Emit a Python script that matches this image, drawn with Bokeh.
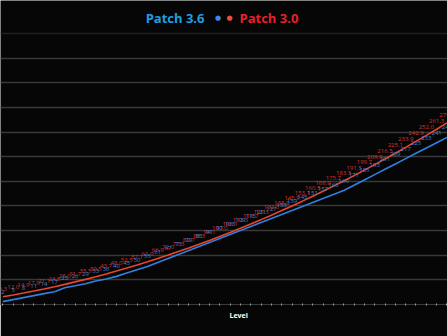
from bokeh.plotting import figure
from bokeh.models import Range1d, FixedTicker, Grid, Label, Title, CustomJSTickFormatter, ColumnDataSource
from bokeh.core.properties import value
from bokeh.embed import file_html
from bokeh.resources import INLINE

# ---- data ----
levels = list(range(1, 45))
patch30 = [9.3, 12.0, 14.9, 17.9, 21.1, 24.5, 28.0, 31.7, 35.5, 39.5, 43.7, 48.0, 52.5, 57.1,
           61.9, 66.9, 72.0, 77.3, 82.7, 88.3, 94.1, 100.0, 106.1, 112.3, 118.7, 125.3, 132.0,
           138.9, 145.9, 153.1, 160.5, 168.0, 175.7, 183.5, 191.5, 199.7, 208.0, 216.5, 225.1,
           233.9, 242.9, 252.0, 261.3, 270.8]
patch36 = [2, 5, 8, 11, 14, 17, 23, 26, 29, 33, 36, 40, 45, 50, 55, 61, 67, 73, 79, 85, 91, 97,
           103, 109, 115, 121, 127, 133, 139, 145, 151, 157, 163, 169, 177, 185, 193, 201, 209,
           217, 225, 233, 241, 249]
series_names = ["Patch 3.6", "Patch 3.0"]
x_title = "Level"

W, H = 447, 336
BOTTOM = 32
FRAME_H = H - BOTTOM
PX_PER_GRID = 24.64
BG = "#060606"
RED_LINE = "#e8462e"
BLUE_LINE = "#2f80e0"
RED_TXT = "#d0352e"
BLUE_TXT = "#3f84dc"

y0 = -2.3
ystep = 37.05
y1 = y0 + ystep * FRAME_H / PX_PER_GRID
p = figure(width=W, height=H, output_backend="svg", toolbar_location=None,
           x_range=Range1d(0.777, 44.05), y_range=Range1d(y0, y1),
           y_axis_location=None, min_border_left=0, min_border_right=0,
           min_border_top=0, min_border_bottom=BOTTOM)
p.background_fill_color = BG
p.border_fill_color = BG
p.outline_line_color = None
for g in p.xgrid:
    g.visible = False
for g in p.ygrid:
    g.visible = False

grid = Grid(dimension=1, ticker=FixedTicker(ticks=[y0 + k * ystep for k in range(1, 11)]),
            grid_line_color="#383838", grid_line_width=1.4)
p.add_layout(grid)
top_grid = Grid(dimension=1, ticker=FixedTicker(ticks=[y0 + 11 * ystep]),
                grid_line_color="#202020", grid_line_width=1.4)
p.add_layout(top_grid)

ax = p.xaxis[0]
ax.ticker = FixedTicker(ticks=levels)
ax.formatter = CustomJSTickFormatter(code="return ''")
ax.major_label_text_font_size = "1px"
ax.major_label_standoff = 0
ax.axis_line_color = "#3a3a3a"
ax.axis_line_width = 1.2
ax.major_tick_line_color = "#a0a0a0"
ax.major_tick_in = 1
ax.major_tick_out = 1
ax.minor_tick_line_color = None

p.add_layout(Title(text=x_title, align="left", offset=229, text_font="Open Sans",
                   text_font_style="bold", text_font_size="7px", text_color="#ffffff",
                   standoff=6), "below")

src = ColumnDataSource(dict(
    x=levels, r=patch30, b=patch36,
    rt=[f"{v:.1f}" for v in patch30], bt=[str(v) for v in patch36]))

p.line("x", "b", source=src, line_color=BLUE_LINE, line_width=1.6)
p.line("x", "r", source=src, line_color=RED_LINE, line_width=1.6)

p.text("x", "r", text="rt", source=src, text_color=RED_TXT, text_font=value("Open Sans"),
       text_font_size="6px", text_align="center", text_baseline="middle", y_offset=-8)
p.text("x", "b", text="bt", source=src, text_color=BLUE_TXT, text_font=value("Open Sans"),
       text_font_size="6px", text_align="center", text_baseline="middle", y_offset=-10)

# legend at top (screen units measured from the frame's bottom-left corner)
def sy(top_px):
    return FRAME_H - top_px

p.add_layout(Label(x=204, y=sy(17), x_units="screen", y_units="screen", text=series_names[0],
                   text_color="#1ba0e2", text_font="Open Sans", text_font_style="bold",
                   text_font_size="13px", text_align="right", text_baseline="middle"))
p.add_layout(Label(x=239, y=sy(17), x_units="screen", y_units="screen", text=series_names[1],
                   text_color="#e8202a", text_font="Open Sans", text_font_style="bold",
                   text_font_size="13px", text_align="left", text_baseline="middle"))
p.add_layout(Label(x=217.5, y=sy(17), x_units="screen", y_units="screen", text="\u25cf",
                   text_color="#3f86e8", text_font="DejaVu Sans",
                   text_font_size="7px", text_align="center", text_baseline="middle"))
p.add_layout(Label(x=229, y=sy(17), x_units="screen", y_units="screen", text="\u25cf",
                   text_color="#e85040", text_font="DejaVu Sans",
                   text_font_size="7px", text_align="center", text_baseline="middle"))

open("out.html", "w").write(file_html(p, INLINE))
